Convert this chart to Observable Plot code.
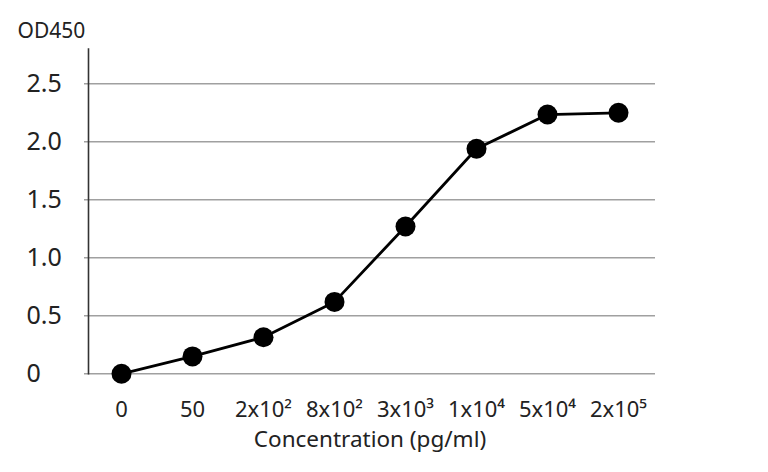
<!DOCTYPE html>
<html>
<head>
<meta charset="utf-8">
<script src="https://cdn.jsdelivr.net/npm/d3@7"></script>
<script src="https://cdn.jsdelivr.net/npm/@observablehq/plot@0.6"></script>
<style>
  html, body { margin: 0; padding: 0; background: #fff; }
  svg { font-family: "Noto Sans", sans-serif; }
</style>
</head>
<body>
<div id="chart"></div>
<script>
const concentrations = ["0", "50", "2x10²", "8x10²", "3x10³", "1x10⁴", "5x10⁴", "2x10⁵"];
const od450 = [0.0, 0.15, 0.315, 0.62, 1.27, 1.94, 2.235, 2.25];
const yTicks = [0, 0.5, 1.0, 1.5, 2.0, 2.5];
const yTitle = "OD450";
const xTitle = "Concentration (pg/ml)";

const data = concentrations.map((c, i) => ({conc: c, od: od450[i]}));

const chart = Plot.plot({
  width: 768,
  height: 472,
  marginLeft: 84,
  marginRight: 113,
  marginTop: 48.5,
  marginBottom: 98.7,
  style: {fontFamily: "Noto Sans, sans-serif", background: "#fff", color: "#222"},
  x: {type: "point", domain: concentrations, padding: 0.5},
  y: {domain: [0, 2.8]},
  marks: [
    Plot.ruleY(yTicks, {stroke: "#a0a0a0", strokeWidth: 1.4}),
    Plot.frame({anchor: "left", dx: 4, stroke: "#333", strokeWidth: 1.6}),
    Plot.axisY({
      ticks: yTicks,
      tickSize: 0,
      tickPadding: 58,
      textAnchor: "start",
      tickFormat: d => d === 0 ? "0" : d.toFixed(1),
      fontSize: 25,
      fill: "#222",
      label: null
    }),
    Plot.text([yTitle], {
      frameAnchor: "top-left", textAnchor: "start", lineAnchor: "bottom",
      dx: -67, dy: -11, fontSize: 21, fill: "#222"
    }),
    Plot.axisX({
      tickSize: 0,
      tickPadding: 28,
      fontSize: 22,
      fill: "#222",
      label: null
    }),
    Plot.text([xTitle], {
      frameAnchor: "bottom", lineAnchor: "top", dy: 57, fontSize: 22.5, fill: "#222"
    }),
    Plot.line(data, {x: "conc", y: "od", stroke: "#000", strokeWidth: 2.8}),
    Plot.dot(data, {x: "conc", y: "od", r: 10, fill: "#000", stroke: "none"})
  ]
});

document.getElementById("chart").append(chart);
</script>
</body>
</html>
